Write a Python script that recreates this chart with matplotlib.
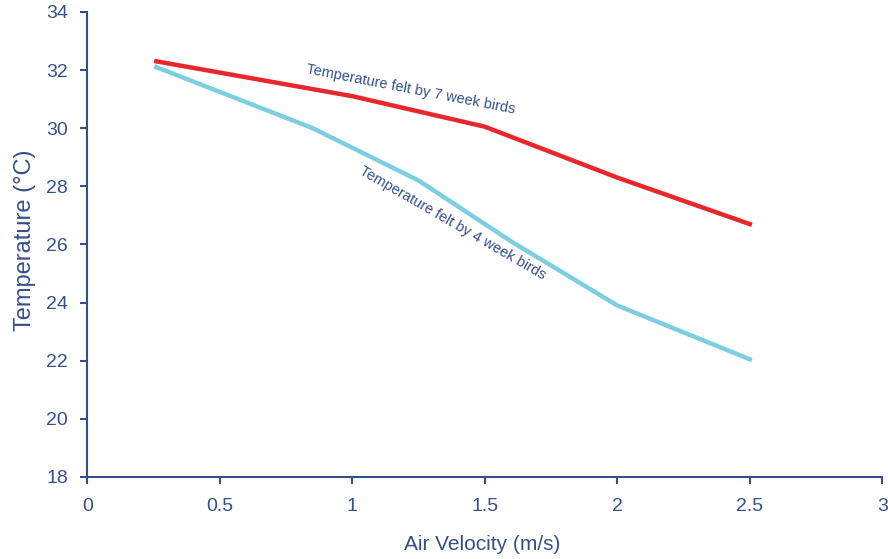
import matplotlib.pyplot as plt

# values
vel_7wk = [0.26, 1.0, 1.5, 2.0, 2.5]
temp_7wk = [32.3, 31.1, 30.05, 28.3, 26.7]

vel_4wk = [0.26, 0.85, 1.25, 1.6, 2.0, 2.5]
temp_4wk = [32.1, 30.0, 28.2, 26.1, 23.9, 22.05]

xticks = [0, 0.5, 1, 1.5, 2, 2.5, 3]
yticks = [18, 20, 22, 24, 26, 28, 30, 32, 34]

navy = '#34508a'
plt.rcParams['font.family'] = ['Liberation Sans', 'DejaVu Sans']

fig = plt.figure(figsize=(8.88, 5.59), dpi=100)
ax = fig.add_axes([0.0985, 0.1467, 0.895, 0.832])

ax.plot(vel_7wk, temp_7wk, color='#e8262b', lw=3.2, solid_joinstyle='round')
ax.plot(vel_4wk, temp_4wk, color='#7ccfe0', lw=3.2, solid_joinstyle='round')

ax.text(1.219, 31.32, 'Temperature felt by 7 week birds', color=navy, fontsize=10.5,
        rotation=-11, ha='center', va='center', rotation_mode='anchor')
ax.text(1.377, 26.74, 'Temperature felt by 4 week birds', color=navy, fontsize=10.5,
        rotation=-30, ha='center', va='center', rotation_mode='anchor')

ax.set_xlim(0, 3)
ax.set_ylim(18, 34)
ax.set_xticks(xticks)
ax.set_xticklabels([f'{t:g}' for t in xticks])
ax.set_yticks(yticks)

for s in ['top', 'right']:
    ax.spines[s].set_visible(False)
for s in ['left', 'bottom']:
    ax.spines[s].set_color(navy)
    ax.spines[s].set_linewidth(1.5)

ax.tick_params(colors=navy, labelsize=14, width=1.5, length=5)
ax.tick_params(axis='x', pad=10)
ax.tick_params(axis='y', pad=9)
ax.set_xlabel('Air Velocity (m/s)', color=navy, fontsize=15, va='center')
ax.set_ylabel('Temperature (°C)', color=navy, fontsize=17, va='center')
ax.xaxis.set_label_coords(0.497, -0.146)
ax.yaxis.set_label_coords(-0.079, 0.51)

plt.savefig('out.png', dpi=100)
